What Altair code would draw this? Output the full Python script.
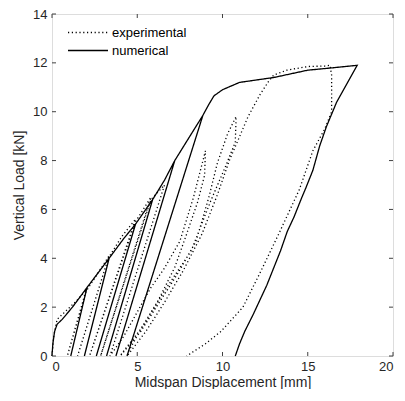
import altair as alt
import pandas as pd

# ---- data ----
num_x = [0, 0.05, 0.15, 0.3, 0.6, 1.2, 2.05,
         1.1, 2.05, 2.7, 3.35,
         1.9, 3.35, 4.2, 4.9,
         2.6, 4.9, 5.9,
         3.2, 5.9, 6.6, 7.2,
         3.75, 7.2, 8.0, 8.85,
         4.4, 8.85, 9.2, 9.5, 10.0, 11.0, 12.0, 13.0, 14.0, 15.0, 16.5, 17.9,
         17.5, 17.1, 16.7, 16.4, 16.1, 15.7, 15.3, 14.9, 14.6, 14.2, 13.8,
         13.4, 13.0, 12.6, 12.2, 11.8, 11.3, 11.0, 10.75]
num_y = [0, 0.5, 1.0, 1.3, 1.5, 2.0, 2.8,
         0, 2.8, 3.4, 4.0,
         0, 4.0, 4.8, 5.4,
         0, 5.4, 6.4,
         0, 6.4, 7.2, 8.0,
         0, 8.0, 8.9, 9.85,
         0, 9.85, 10.3, 10.65, 10.9, 11.2, 11.3, 11.4, 11.55, 11.7, 11.8, 11.9,
         11.4, 10.9, 10.4, 9.9, 9.4, 8.6, 7.6, 6.9, 6.4, 5.7, 5.1,
         4.3, 3.6, 2.9, 2.3, 1.7, 1.0, 0.5, 0]

exp_x = [0, 0.1, 0.3, 0.9, 1.5, 2.0,
         0.9, 2.0, 2.7, 3.35,
         1.5, 3.3, 4.1, 4.9,
         2.2, 4.9, 5.8,
         2.85, 5.8, 6.6,
         3.4, 4.2, 5.0, 5.8, 6.6, 7.5, 8.3, 9.0,
         8.95, 8.54, 7.9, 7.2, 6.24, 5.2, 4.12, 4.0,
         5.2, 6.3, 7.4, 8.45, 9.2, 9.7, 10.3, 10.8,
         10.75, 10.2, 9.3, 8.16, 6.62, 5.09, 4.5, 4.4,
         5.5, 6.6, 7.7, 8.8, 9.7, 10.4, 10.86, 11.5, 12.2, 12.7, 13.0, 13.77,
         15.0, 16.0, 16.3, 16.4, 16.4, 16.0, 15.3, 14.5, 13.3, 12.2, 11.2, 9.9, 9.0, 7.9]
exp_y = [0, 0.8, 1.5, 1.9, 2.3, 2.7,
         0, 2.65, 3.4, 4.1,
         0, 4.0, 4.9, 5.6,
         0, 5.5, 6.5,
         0, 6.4, 7.0,
         0, 0.8, 1.8, 2.8, 3.6, 4.7, 6.5, 8.4,
         7.4, 6.3, 5.0, 3.63, 2.29, 1.1, 0.13, 0,
         1.0, 2.2, 3.4, 4.7, 6.5, 7.9, 9.1, 9.8,
         8.75, 7.8, 6.33, 4.3, 2.69, 0.94, 0.2, 0,
         1.0, 2.2, 3.5, 5.0, 6.6, 8.0, 8.75, 9.8, 10.7, 11.24, 11.5, 11.7,
         11.85, 11.87, 11.9, 11.5, 10.0, 9.3, 8.4, 6.8, 5.0, 3.4, 2.0, 1.0, 0.5, 0]

series_names = ["experimental", "numerical"]
x_ticks = [0, 5, 10, 15, 20]
y_ticks = [0, 2, 4, 6, 8, 10, 12, 14]

rows = []
for i, (xv, yv) in enumerate(zip(exp_x, exp_y)):
    rows.append({"x": xv, "y": yv, "series": series_names[0], "o": i})
for i, (xv, yv) in enumerate(zip(num_x, num_y)):
    rows.append({"x": xv, "y": yv, "series": series_names[1], "o": i})
df = pd.DataFrame(rows)

W, H = 341, 342
TXT = "#262626"

xs = alt.Scale(domain=[0, 20], nice=False, zero=False)
ys = alt.Scale(domain=[0, 14], nice=False, zero=False)

lines = alt.Chart(df).mark_line(color="#000000", strokeWidth=1.3).encode(
    x=alt.X("x:Q", scale=xs,
            axis=alt.Axis(values=x_ticks, title="Midspan Displacement [mm]", ticks=False,
                          domain=False, grid=False, labelPadding=4, titlePadding=2,
                          labelFontSize=13, titleFontSize=14, labelColor=TXT,
                          titleColor=TXT, titleFontWeight="normal",
                          labelFont="Liberation Sans", titleFont="Liberation Sans")),
    y=alt.Y("y:Q", scale=ys,
            axis=alt.Axis(values=y_ticks, title="Vertical Load [kN]", ticks=False,
                          domain=False, grid=False, labelPadding=5, titlePadding=6,
                          labelFontSize=13, titleFontSize=14, labelColor=TXT,
                          titleColor=TXT, titleFontWeight="normal",
                          labelFont="Liberation Sans", titleFont="Liberation Sans")),
    strokeDash=alt.StrokeDash("series:N",
                              scale=alt.Scale(domain=series_names, range=[[1.2, 2.6], [1, 0]]),
                              legend=alt.Legend(title=None, orient="none", legendX=15, legendY=11,
                                                symbolType="stroke", symbolSize=1600,
                                                clipHeight=15,
                                                symbolStrokeWidth=1.3, symbolStrokeColor="#000000",
                                                labelFontSize=13, labelFont="Liberation Sans",
                                                labelColor="#000000", labelOffset=3,
                                                rowPadding=3, padding=0)),
    order="o:Q",
    detail="series:N",
)

xt = pd.DataFrame({"t": x_ticks})
yt = pd.DataFrame({"t": y_ticks})
tick_col = "#404040"
xb = alt.Chart(xt).mark_rule(color=tick_col).encode(
    x=alt.X("t:Q", scale=xs), y=alt.value(H), y2=alt.value(H - 4))
xtop = alt.Chart(xt).mark_rule(color=tick_col).encode(
    x=alt.X("t:Q", scale=xs), y=alt.value(0), y2=alt.value(4))
yl = alt.Chart(yt).mark_rule(color=tick_col).encode(
    y=alt.Y("t:Q", scale=ys), x=alt.value(0), x2=alt.value(4))
yr = alt.Chart(yt).mark_rule(color=tick_col).encode(
    y=alt.Y("t:Q", scale=ys), x=alt.value(W), x2=alt.value(W - 4))

chart = alt.layer(lines, xb, xtop, yl, yr).properties(
    width=W, height=H,
    autosize=alt.AutoSizeParams(type="none"),
    padding={"left": 44, "top": 6, "right": 4, "bottom": 33},
).configure_view(stroke="#404040", strokeWidth=1).configure(background="white")

chart.save("out.html", embed_options={"renderer": "svg", "actions": False})
